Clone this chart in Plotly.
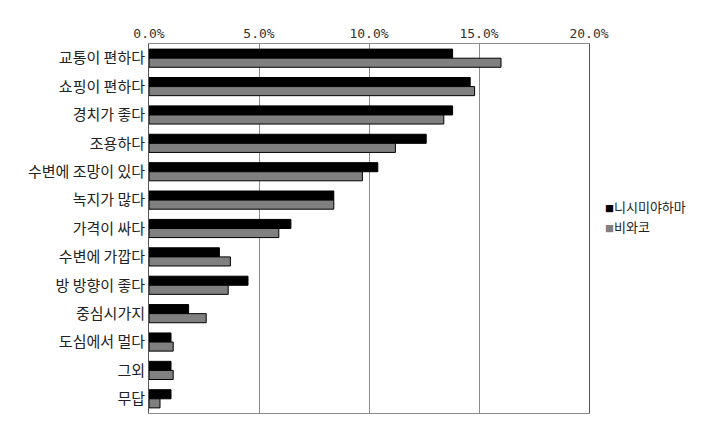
import plotly.graph_objects as go

categories = ["교통이 편하다", "쇼핑이 편하다", "경치가 좋다", "조용하다", "수변에 조망이 있다",
              "녹지가 많다", "가격이 싸다", "수변에 가깝다", "방 방향이 좋다", "중심시가지",
              "도심에서 멀다", "그외", "무답"]
nishimiyahama = [13.8, 14.6, 13.8, 12.6, 10.4, 8.4, 6.45, 3.2, 4.5, 1.8, 1.0, 1.0, 1.0]
biwako = [16.0, 14.8, 13.4, 11.2, 9.7, 8.4, 5.9, 3.7, 3.6, 2.6, 1.1, 1.1, 0.5]
series_names = ["니시미야하마", "비와코"]
series_colors = ["#000000", "#808080"]
tick_vals = [0, 5, 10, 15, 20]
tick_text = ["0.0%", "5.0%", "10.0%", "15.0%", "20.0%"]

fig = go.Figure()
for name, vals, col in zip(series_names, [nishimiyahama, biwako], series_colors):
    fig.add_trace(go.Bar(y=categories, x=vals, orientation="h", name=name,
                         marker=dict(color=col, line=dict(color="#000000", width=1))))

# legend drawn as text entries
for i, (name, col) in enumerate(zip(series_names, series_colors)):
    fig.add_annotation(
        xref="paper", yref="paper", x=1.035, y=0.56 - i * 0.054,
        xanchor="left", yanchor="middle", showarrow=False, align="left",
        borderpad=0,
        text=f"<span style='color:{col};font-size:9px'>■</span>{name}",
        font=dict(family="Noto Sans CJK KR", size=13, color="#222222"),
    )

fig.update_layout(
    width=717, height=448,
    margin=dict(l=149, r=128, t=44, b=35, autoexpand=False),
    paper_bgcolor="white", plot_bgcolor="white",
    barmode="group", bargap=0.36, bargroupgap=0,
    font=dict(family="Noto Sans CJK KR", size=15, color="#222222"),
    showlegend=False,
)
fig.update_xaxes(side="top", range=[0, 20], tickvals=tick_vals, ticktext=tick_text,
                 showgrid=True, gridcolor="#8c8c8c", gridwidth=1,
                 showline=True, linecolor="#8c8c8c", mirror=True, zeroline=False,
                 ticks="", tickfont=dict(family="DejaVu Sans Mono", size=13, color="#333333"))
fig.update_yaxes(autorange="reversed", showline=True, linecolor="#555555", mirror=True,
                 ticks="", ticklen=0, tickfont=dict(size=15, color="#222222"))

fig.write_html("out.html")
